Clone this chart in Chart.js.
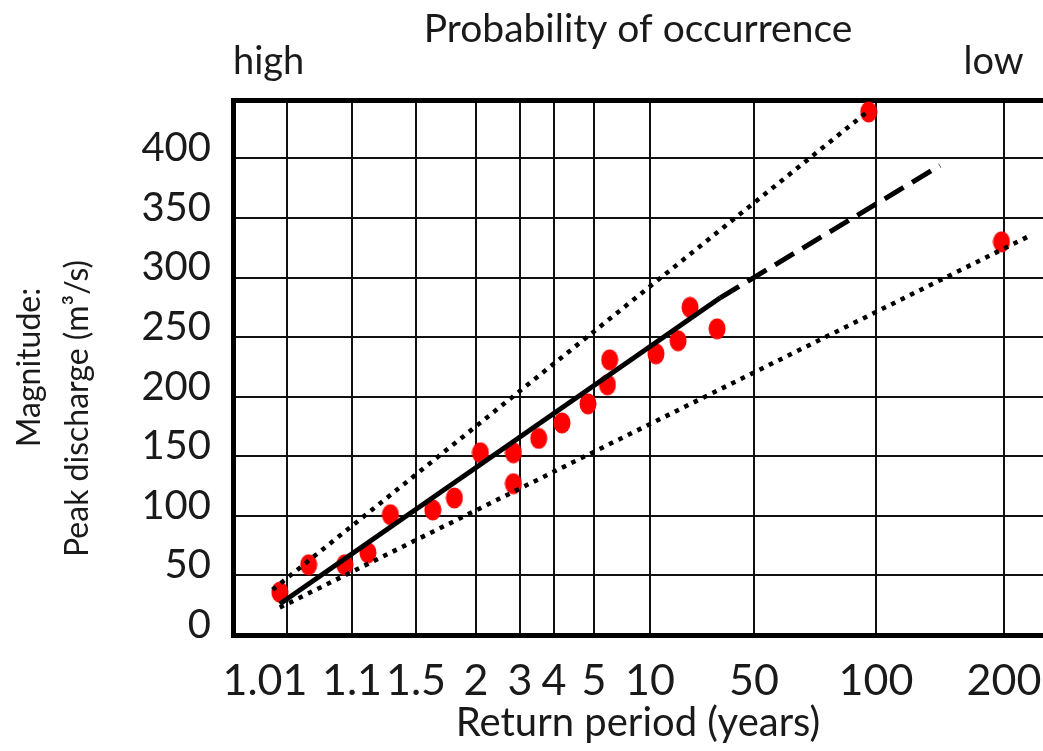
<!DOCTYPE html>
<html>
<head>
<meta charset="utf-8">
<title>Flood frequency</title>
<script src="https://cdn.jsdelivr.net/npm/chart.js@4"></script>
<style>
  html, body { margin: 0; padding: 0; background: #fff; }
  canvas { display: block; }
</style>
</head>
<body>
<canvas id="floodChart" width="1043" height="751"></canvas>
<script>
// ── Data ──────────────────────────────
// return period grid of the probability paper
const periodTicks  = [1.01, 1.1, 1.5, 2, 3, 4, 5, 10, 50, 100, 200];
const periodLabels = ['1.01    ', '1.1', '1.5', '2', '3', '4', '5', '10', '50', '100', '200'];
// spacing of those lines on the paper (arbitrary paper units)
const paperSpacing = [5.4, 11.9, 18.3, 24.3, 28.7, 32.1, 36.1, 41.7, 52.1, 64.3, 77.1];
const dischargeTicks = [0, 50, 100, 150, 200, 250, 300, 350, 400];

// observed annual peaks (return period, m3/s)
const observedPeriod = [1.0, 1.04, 1.09, 1.2, 1.34, 1.64, 1.82, 2.1, 2.85, 2.85, 3.55, 4.2, 4.85, 6.2, 6.4, 12.3, 20.8, 25.4, 35.8, 97, 198];
const observedPeak   = [36, 59, 59, 69, 101, 105, 115, 153, 153, 127, 165, 178, 194, 210, 231, 236, 247, 275, 257, 439, 330];

// fitted line, its extrapolation and the confidence band
const fitPeriod = [1.0, 37];
const fitPeak   = [26, 283];
const extPeriod = [37, 150];
const extPeak   = [283, 394];
const upperPeriod = [0.99, 97];
const upperPeak   = [38, 440];
const lowerPeriod = [1.0, 220];
const lowerPeak   = [23, 335];

// ── Paper transform ───────────────────
function toPaper(T) {
    let i = 0;
    while (i < periodTicks.length - 2 && T > periodTicks[i + 1]) i++;
    const t = (T - periodTicks[i]) / (periodTicks[i + 1] - periodTicks[i]);
    return paperSpacing[i] + t * (paperSpacing[i + 1] - paperSpacing[i]);
}
const pts = (xs, ys) => xs.map((x, i) => ({ x: toPaper(x), y: ys[i] }));

// red blob marker
function makeDot() {
    const c = document.createElement('canvas');
    c.width = 18; c.height = 22;
    const g = c.getContext('2d');
    g.fillStyle = '#ff0000';
    g.beginPath();
    g.ellipse(9, 11, 8.5, 10.5, 0, 0, Math.PI * 2);
    g.fill();
    return c;
}

Chart.defaults.font.family = 'Lato';
Chart.defaults.color = '#1a1a1a';

const lineDs = (label, data, dash) => ({
    label, data, type: 'scatter', showLine: true,
    borderColor: '#000', borderWidth: dash && dash[0] < 8 ? 4.5 : 5,
    borderDash: dash || [], borderCapStyle: 'butt',
    pointRadius: 0, order: 0
});

// keep the plot flush with the canvas edge
const fixX = h => s => { s.height = h; s.paddingLeft = 0; s.paddingRight = 0; };

new Chart(document.getElementById('floodChart'), {
    type: 'scatter',
    data: {
        datasets: [
            lineDs('Fit', pts(fitPeriod, fitPeak)),
            lineDs('Extrapolation', pts(extPeriod, extPeak), [22, 10]),
            lineDs('Upper', pts(upperPeriod, upperPeak), [4.5, 6]),
            lineDs('Lower', pts(lowerPeriod, lowerPeak), [4.5, 6]),
            {
                label: 'Observed', data: pts(observedPeriod, observedPeak),
                pointStyle: makeDot(), pointRadius: 10, order: 1
            }
        ]
    },
    options: {
        responsive: false, animation: false,
        layout: { padding: 0, autoPadding: false },
        plugins: { legend: { display: false }, tooltip: { enabled: false } },
        scales: {
            x: {
                type: 'linear', position: 'bottom', min: 0, max: 81,
                afterBuildTicks: s => { s.ticks = paperSpacing.map(v => ({ value: v })); },
                afterFit: fixX(116),
                ticks: {
                    autoSkip: false, maxRotation: 0, minRotation: 0, padding: 0,
                    font: { size: 43, lineHeight: 2.13 }, color: '#1a1a1a',
                    callback: (v, i) => periodLabels[i]
                },
                grid: { color: '#111', lineWidth: 2, drawTicks: false },
                border: { color: '#000', width: 5 },
                title: { display: true, text: 'Return period (years)', font: { size: 40 }, padding: { top: 0, bottom: 4 } }
            },
            xTop: {
                type: 'linear', position: 'top', min: 0, max: 81,
                afterBuildTicks: s => { s.ticks = [{ value: s.min }, { value: s.max }]; },
                afterFit: fixX(100),
                ticks: {
                    align: 'inner', maxRotation: 0, padding: 0,
                    font: { size: 38, lineHeight: 1.99 }, color: '#1a1a1a',
                    callback: (v, i) => ['high', 'low  '][i]
                },
                grid: { display: false, drawTicks: false },
                border: { color: '#000', width: 5 },
                title: { display: true, text: 'Probability of occurrence', font: { size: 39 }, padding: { top: 6, bottom: 0 } }
            },
            y: {
                type: 'linear', position: 'left', min: 0, max: 449,
                afterBuildTicks: s => { s.ticks = dischargeTicks.map(v => ({ value: v })); },
                afterFit: s => { s.width = 233; },
                ticks: { padding: 22, labelOffset: -10, font: { size: 40 }, color: '#1a1a1a' },
                grid: { color: '#111', lineWidth: 2, drawTicks: false },
                border: { color: '#000', width: 5 },
                title: {
                    display: true, text: ['Magnitude:', 'Peak discharge (m³/s)' + ' '.repeat(10)],
                    font: { size: 32, lineHeight: 1.5 }, padding: { top: 6, bottom: 0 }
                }
            }
        }
    }
});
</script>
</body>
</html>
